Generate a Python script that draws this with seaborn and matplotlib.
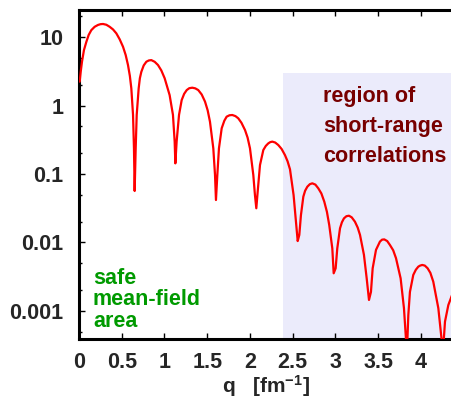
import matplotlib
matplotlib.use("Agg")
import matplotlib.pyplot as plt
from matplotlib.ticker import FixedLocator, FixedFormatter, NullFormatter
import numpy as np
import pandas as pd
import seaborn as sns

# ---- data (q in fm^-1, curve value) ----
q_values = [
    0.008, 0.020, 0.035, 0.058, 0.086, 0.113, 0.144, 0.183, 0.222, 0.252, 0.281, 0.320,
    0.359, 0.398, 0.437, 0.476, 0.515, 0.546, 0.573, 0.595, 0.612, 0.632, 0.643, 0.651,
    0.663, 0.675, 0.698, 0.712, 0.729, 0.757, 0.788, 0.817, 0.846, 0.885, 0.924, 0.963,
    1.002, 1.060, 1.099, 1.119, 1.127,
    1.142, 1.170, 1.201, 1.230, 1.260, 1.290, 1.325, 1.360, 1.395, 1.435, 1.474, 1.505,
    1.532, 1.571, 1.591, 1.602,
    1.618, 1.637, 1.669, 1.700, 1.727, 1.760, 1.793, 1.830, 1.863, 1.900, 1.942, 1.972,
    2.000, 2.039, 2.058, 2.074,
    2.090, 2.117, 2.156, 2.185, 2.214, 2.237, 2.261, 2.295, 2.331, 2.370, 2.409, 2.440,
    2.468, 2.510, 2.538, 2.558,
    2.577, 2.596, 2.624, 2.645, 2.671, 2.700, 2.729, 2.765, 2.799, 2.835, 2.869, 2.900,
    2.927, 2.963, 2.979,
    3.002, 3.021, 3.053, 3.075, 3.099, 3.128, 3.158, 3.190, 3.228, 3.260, 3.287, 3.333,
    3.365, 3.392,
    3.415, 3.435, 3.474, 3.520, 3.545, 3.571, 3.605, 3.637, 3.675, 3.708, 3.762, 3.801,
    3.824, 3.833,
    3.842, 3.852, 3.871, 3.910, 3.940, 3.969, 3.990, 4.015, 4.045, 4.078, 4.110, 4.144,
    4.203, 4.240, 4.255,
    4.268, 4.281, 4.320, 4.363,
]
f_values = [
    2.23, 3.1, 4.36, 6.45, 8.5, 10.7, 12.6, 14.1, 15.0, 15.4, 15.5, 15.1,
    14.1, 12.9, 11.3, 9.25, 7.2, 5.46, 3.9, 2.7, 1.78, 0.73, 0.237, 0.0565,
    0.237, 0.73, 1.78, 2.5, 3.1, 3.85, 4.36, 4.55, 4.6, 4.35, 3.9, 3.25,
    2.5, 1.42, 0.73, 0.297, 0.143,
    0.297, 0.73, 1.2, 1.48, 1.68, 1.79, 1.82, 1.78, 1.68, 1.45, 1.14, 0.85,
    0.58, 0.237, 0.0966, 0.0417,
    0.0966, 0.237, 0.465, 0.60, 0.687, 0.72, 0.727, 0.70, 0.65, 0.56, 0.438, 0.34,
    0.237, 0.0966, 0.0493, 0.0316,
    0.0552, 0.135, 0.224, 0.257, 0.28, 0.292, 0.297, 0.288, 0.265, 0.232, 0.189, 0.153,
    0.117, 0.0493, 0.0201, 0.0105,
    0.0129, 0.0251, 0.0467, 0.057, 0.0653, 0.071, 0.0731, 0.070, 0.0618, 0.052, 0.0395, 0.028,
    0.018, 0.0082, 0.00355,
    0.0042, 0.0082, 0.0161, 0.0197, 0.0225, 0.0242, 0.0246, 0.0233, 0.0201, 0.0165, 0.0129, 0.0066,
    0.003, 0.00145,
    0.0019, 0.0042, 0.0078, 0.0103, 0.0110, 0.0111, 0.0105, 0.0092, 0.0077, 0.0059, 0.003, 0.0011,
    0.0004, 0.0001,
    0.0004, 0.00087, 0.0019, 0.00336, 0.0040, 0.00444, 0.0046, 0.0047, 0.0046, 0.0042, 0.0036, 0.00268,
    0.0011, 0.0004, 0.0001,
    0.0004, 0.0007, 0.00122, 0.0017,
]
assert len(q_values) == len(f_values)

x_ticks = [0, 0.5, 1, 1.5, 2, 2.5, 3, 3.5, 4]
x_tick_labels = ["0", "0.5", "1", "1.5", "2", "2.5", "3", "3.5", "4"]
y_ticks = [0.001, 0.01, 0.1, 1, 10]
y_tick_labels = ["0.001", "0.01", "0.1", "1", "10"]
y_minor_ticks = [0.0005, 0.002, 0.005, 0.02, 0.05, 0.2, 0.5, 2, 5, 20]

region_q_start = 2.386
region_f_top = 3.0
x_limits = (0.0, 4.363)
y_limits = (3.9e-4, 24.8)

region_text = "region of\nshort-range\ncorrelations"
safe_text = "safe\nmean-field\narea"

# ---- style ----
sns.set_style("ticks")
plt.rcParams["font.family"] = ["Liberation Sans", "DejaVu Sans"]
plt.rcParams["font.weight"] = "bold"
plt.rcParams["mathtext.fontset"] = "custom"
plt.rcParams["mathtext.rm"] = "Liberation Sans:bold"
plt.rcParams["mathtext.it"] = "Liberation Sans:bold"
plt.rcParams["mathtext.bf"] = "Liberation Sans:bold"

W, H = 452, 399
fig = plt.figure(figsize=(W / 100, H / 100), dpi=100)
ax = fig.add_axes([79 / W, 1 - 339 / H, 1 - 79 / W, (339 - 10) / H])

df = pd.DataFrame({"q": q_values, "F": f_values})

# shaded region
ax.fill_between([region_q_start, x_limits[1] + 0.5], y_limits[0] * 0.1, region_f_top,
                color="#ebebfb", lw=0, zorder=0)

sns.lineplot(data=df, x="q", y="F", color="#ff0000", lw=1.6, estimator=None,
             sort=False, ax=ax, zorder=3)

ax.set_yscale("log")
ax.set_xlim(*x_limits)
ax.set_ylim(*y_limits)

ax.xaxis.set_major_locator(FixedLocator(x_ticks))
ax.xaxis.set_major_formatter(FixedFormatter(x_tick_labels))
ax.yaxis.set_major_locator(FixedLocator(y_ticks))
ax.yaxis.set_major_formatter(FixedFormatter(y_tick_labels))
ax.yaxis.set_minor_locator(FixedLocator(y_minor_ticks))
ax.yaxis.set_minor_formatter(NullFormatter())

for s in ["left", "top", "bottom"]:
    ax.spines[s].set_visible(True)
    ax.spines[s].set_linewidth(2.2)
    ax.spines[s].set_color("black")
ax.spines["right"].set_visible(False)

ax.tick_params(which="both", direction="in", top=True, right=False, width=1.0, color="black")
ax.tick_params(which="major", length=4)
ax.tick_params(which="minor", length=2.5)
ax.tick_params(axis="y", which="major", labelsize=15.5, pad=11)
ax.tick_params(axis="x", which="major", labelsize=15.5, pad=9.5)
for lab in ax.get_xticklabels() + ax.get_yticklabels():
    lab.set_fontweight("bold")

ax.set_xlabel("q   [fm$^{-1}$]", fontsize=15, fontweight="bold", labelpad=0)
ax.set_ylabel("")

fig.text(323 / W, 1 - 86 / H, region_text, color="#780000", fontsize=15.5,
         fontweight="bold", ha="left", va="top", linespacing=1.55)
fig.text(93 / W, 1 - 267.5 / H, safe_text, color="#009a00", fontsize=15.5,
         fontweight="bold", ha="left", va="top", linespacing=1.05)

fig.savefig("out.png", dpi=100)
